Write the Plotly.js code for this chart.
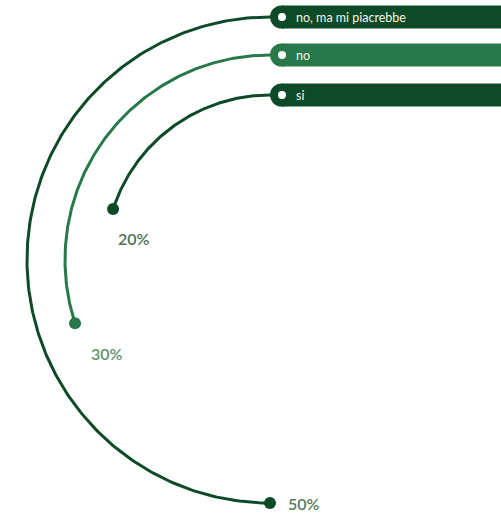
<!DOCTYPE html>
<html>
<head>
<meta charset="utf-8">
<script src="https://cdn.plot.ly/plotly-3.0.1.min.js"></script>
<style>html,body{margin:0;padding:0;background:#fff;}#chart{width:501px;height:517px;}</style>
</head>
<body>
<div id="chart"></div>
<script>
// ---- data ----
const categories = ['no, ma mi piacrebbe', 'no', 'si'];
const values = [50, 30, 20];
const valueLabels = ['50%', '30%', '20%'];

// ---- style / layout ----
const colors = ['#0d4a28', '#27794a', '#0d4a28'];
const labelColors = ['#557a5d', '#5f9070', '#4f6f57'];
const W = 501, H = 517;
const cx = 270, cy = 260;
const radii = [243, 205, 165];
const barH = 23;
const labelOffsets = [[16, 0], [14, 30], [3, 29]];

const traces = [];
const shapes = [];
const annotations = [];

categories.forEach((cat, i) => {
  const r = radii[i];
  const sweep = values[i] / 100 * 360;
  const xs = [], ys = [];
  const n = 200;
  for (let k = 0; k <= n; k++) {
    const th = (sweep * k / n) * Math.PI / 180;
    xs.push(cx - r * Math.sin(th));
    ys.push(cy - r * Math.cos(th));
  }
  traces.push({
    x: xs, y: ys, type: 'scatter', mode: 'lines',
    line: {color: colors[i], width: 3}, hoverinfo: 'skip', showlegend: false
  });
  const ex = xs[xs.length - 1], ey = ys[ys.length - 1];
  traces.push({
    x: [ex], y: [ey], type: 'scatter', mode: 'markers',
    marker: {color: colors[i], size: 12}, hoverinfo: 'skip', showlegend: false
  });
  annotations.push({
    x: ex + labelOffsets[i][0], y: ey + labelOffsets[i][1],
    xref: 'x', yref: 'y', text: valueLabels[i], showarrow: false,
    xanchor: 'left', yanchor: 'middle',
    font: {family: 'Lato, sans-serif', size: 16, color: labelColors[i], weight: 600}
  });
  // bar (legend-like label)
  const yc = cy - r;
  shapes.push({type: 'circle', xref: 'x', yref: 'y', x0: cx, x1: cx + barH, y0: yc - barH / 2, y1: yc + barH / 2,
    fillcolor: colors[i], line: {width: 0}, layer: 'above'});
  shapes.push({type: 'rect', xref: 'x', yref: 'y', x0: cx + barH / 2, x1: W + 5, y0: yc - barH / 2, y1: yc + barH / 2,
    fillcolor: colors[i], line: {width: 0}, layer: 'above'});
  shapes.push({type: 'circle', xref: 'x', yref: 'y', x0: cx + 8, x1: cx + 16, y0: yc - 4, y1: yc + 4,
    fillcolor: '#ffffff', line: {width: 0}, layer: 'above'});
  annotations.push({
    x: cx + 24, y: yc, xref: 'x', yref: 'y', text: cat, showarrow: false,
    xanchor: 'left', yanchor: 'middle',
    font: {family: 'Lato, sans-serif', size: 12.5, color: '#f4f4ea'}
  });
});

const layout = {
  width: W, height: H,
  margin: {l: 0, r: 0, t: 0, b: 0},
  paper_bgcolor: '#ffffff', plot_bgcolor: '#ffffff',
  xaxis: {range: [0, W], visible: false, fixedrange: true},
  yaxis: {range: [H, 0], visible: false, fixedrange: true},
  shapes: shapes, annotations: annotations, showlegend: false
};

Plotly.newPlot('chart', traces, layout, {displayModeBar: false, staticPlot: true});
</script>
</body>
</html>
